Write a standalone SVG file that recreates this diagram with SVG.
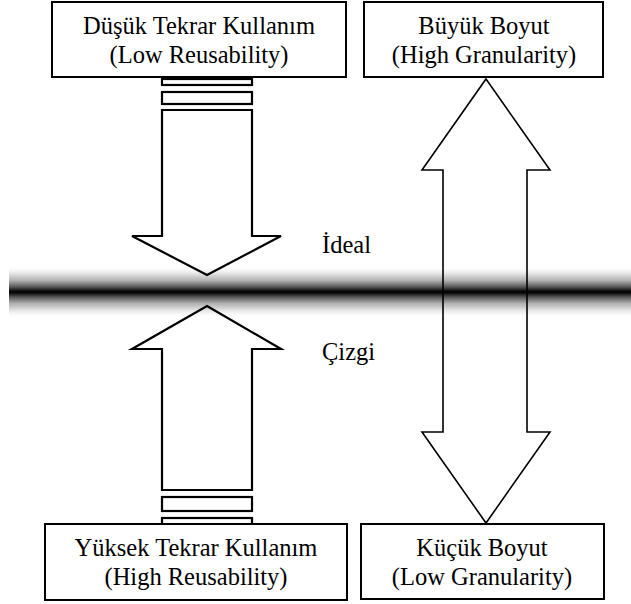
<svg xmlns="http://www.w3.org/2000/svg" width="631" height="604" viewBox="0 0 631 604">
  <defs>
    <linearGradient id="lineFade" x1="0" y1="0" x2="0" y2="1">
      <stop offset="0" stop-color="#ffffff" stop-opacity="0"/>
      <stop offset="0.14" stop-color="#e6e6e6"/>
      <stop offset="0.28" stop-color="#b0b0b0"/>
      <stop offset="0.40" stop-color="#5a5a5a"/>
      <stop offset="0.47" stop-color="#151515"/>
      <stop offset="0.5" stop-color="#000000"/>
      <stop offset="0.53" stop-color="#151515"/>
      <stop offset="0.60" stop-color="#5a5a5a"/>
      <stop offset="0.72" stop-color="#b0b0b0"/>
      <stop offset="0.86" stop-color="#e6e6e6"/>
      <stop offset="1" stop-color="#ffffff" stop-opacity="0"/>
    </linearGradient>
  </defs>
  <style>
    .box { fill: #ffffff; stroke: #000000; stroke-width: 2; }
    .arrow { fill: none; stroke: #000000; stroke-width: 2.2; stroke-linejoin: miter; }
    .outline { fill: none; stroke: #000000; stroke-width: 1.6; stroke-linejoin: miter; }
    text { font-size: 24.5px; fill: #000000; }
    .label { text-anchor: middle; }
  </style>

  <rect width="631" height="604" fill="#ffffff"/>

  <!-- the soft horizontal "ideal line"; arrows are outlines drawn over it -->
  <rect id="ideal-line" x="9" y="266" width="622" height="52" fill="url(#lineFade)"/>

  <g id="connectors">
    <!-- downward block arrow with segmented tail -->
    <rect class="arrow" x="162" y="79" width="90" height="6"/>
    <rect class="arrow" x="162" y="92" width="90" height="12"/>
    <polygon class="arrow" points="162,110 252,110 252,236 281,236 207,275 132,236 162,236"/>

    <!-- upward block arrow with segmented tail -->
    <polygon class="arrow" points="207,306 281,349 252,349 252,490 162,490 162,349 132,349"/>
    <rect class="arrow" x="162" y="497" width="90" height="14"/>
    <rect class="arrow" x="162" y="518" width="90" height="8"/>

    <!-- double-headed granularity arrow -->
    <polygon class="outline" points="486,79 550,170 527,170 527,432 550,432 486,523 422,432 443,432 443,170 422,170"/>
  </g>

  <g id="low-reuse" font-family="Liberation Serif, Tinos, Times New Roman, serif">
    <rect class="box" x="52" y="2" width="294" height="75"/>
    <text class="label" x="199" y="34">Düşük Tekrar Kullanım</text>
    <text class="label" x="199" y="63">(Low Reusability)</text>
  </g>

  <g id="high-granularity" font-family="Liberation Serif, Tinos, Times New Roman, serif">
    <rect class="box" x="364" y="2" width="239" height="75"/>
    <text class="label" x="484" y="34">Büyük Boyut</text>
    <text class="label" x="484" y="63">(High Granularity)</text>
  </g>

  <g id="high-reuse" font-family="Liberation Serif, Tinos, Times New Roman, serif">
    <rect class="box" x="45" y="524" width="302" height="76"/>
    <text class="label" x="196" y="556">Yüksek Tekrar Kullanım</text>
    <text class="label" x="196" y="585">(High Reusability)</text>
  </g>

  <g id="low-granularity" font-family="Liberation Serif, Tinos, Times New Roman, serif">
    <rect class="box" x="361" y="524" width="243" height="75"/>
    <text class="label" x="482" y="556">Küçük Boyut</text>
    <text class="label" x="482" y="585">(Low Granularity)</text>
  </g>

  <g id="ideal-labels" font-family="Liberation Serif, Tinos, Times New Roman, serif">
    <text x="322" y="253">İdeal</text>
    <text x="322" y="360">Çizgi</text>
  </g>
</svg>
